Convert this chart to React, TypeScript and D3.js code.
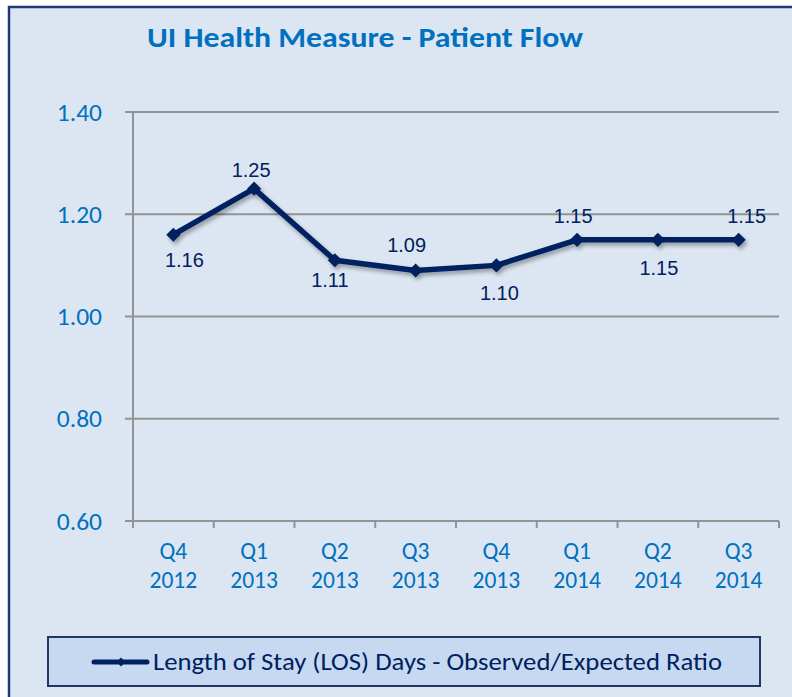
import React from "react";
import * as d3 from "d3";

const categories = ["Q4\n2012", "Q1\n2013", "Q2\n2013", "Q3\n2013", "Q4\n2013", "Q1\n2014", "Q2\n2014", "Q3\n2014"];
const values = [1.16, 1.25, 1.11, 1.09, 1.10, 1.15, 1.15, 1.15];
const yTicks = [0.6, 0.8, 1.0, 1.2, 1.4];
const title = "UI Health Measure - Patient Flow";
const seriesName = "Length of Stay (LOS) Days - Observed/Expected Ratio";
// data-label placement (offset from the marker), as placed in the original
const labelDx = [11, -3, -5, -9, 3, -4, 1, 8];
const labelDy = [32, -12, 27, -18, 35, -17, 35, -17];

export default function App() {
  const W = 792, H = 697;
  const left = 133, right = 779, top = 112, bottom = 521;
  const x = d3.scaleBand<string>().domain(categories).range([left, right]);
  const y = d3.scaleLinear().domain([0.6, 1.4]).range([bottom, top]);
  const cx = (c: string) => (x(c) as number) + x.bandwidth() / 2;
  const line = d3.line<number>().x((_, i) => cx(categories[i])).y((v) => y(v));
  const navy = "#002060";
  const blue = "#0070C0";
  const font = "Calibri, 'Open Sans', 'Liberation Sans', sans-serif";
  const diamond = d3.symbol().type(d3.symbolSquare).size(100)() as string;
  const smallDiamond = d3.symbol().type(d3.symbolSquare).size(40)() as string;
  const bounds = categories.map((c) => x(c) as number).concat([right]);

  return (
    <svg width={W} height={H} style={{ position: "absolute", left: 0, top: 0 }}>
      <defs>
        <filter id="sh" x="-10%" y="-10%" width="120%" height="140%">
          <feGaussianBlur in="SourceAlpha" stdDeviation="2" />
          <feOffset dx="2" dy="3" result="b" />
          <feComponentTransfer><feFuncA type="linear" slope="0.35" /></feComponentTransfer>
          <feMerge><feMergeNode /><feMergeNode in="SourceGraphic" /></feMerge>
        </filter>
      </defs>
      <rect x={0} y={0} width={W} height={H} fill="#ffffff" />
      <rect x={9} y={7} width={W + 20} height={H + 20} fill="#DCE6F2" stroke="#1F3A7A" strokeWidth={2.5} />
      <text x={147} y={47} fontFamily={font} fontWeight="bold" fontSize={29} fill={blue} textLength={436} lengthAdjust="spacingAndGlyphs">{title}</text>

      {yTicks.map((t) => (
        <g key={t}>
          <line x1={125} x2={right} y1={y(t)} y2={y(t)} stroke="#939393" strokeWidth={2} />
          <text x={102} y={y(t) + 8.5} textAnchor="end" fontFamily={font} fontSize={25.5} fill={blue}>{t.toFixed(2)}</text>
        </g>
      ))}
      <line x1={left} x2={left} y1={top} y2={bottom + 7} stroke="#939393" strokeWidth={2} />
      {bounds.map((b, i) => (
        <line key={i} x1={b} x2={b} y1={bottom} y2={bottom + 7} stroke="#939393" strokeWidth={2} />
      ))}
      {categories.map((c) => {
        const [a, b] = c.split("\n");
        return (
          <g key={c}>
            <text x={cx(c)} y={559} textAnchor="middle" fontFamily={font} fontSize={23.5} fill={blue}>{a}</text>
            <text x={cx(c)} y={588} textAnchor="middle" fontFamily={font} fontSize={23.5} fill={blue}>{b}</text>
          </g>
        );
      })}

      <g filter="url(#sh)">
        <path d={line(values) as string} fill="none" stroke={navy} strokeWidth={5.5} strokeLinejoin="round" />
        {values.map((v, i) => (
          <path key={i} d={diamond} transform={`translate(${cx(categories[i])},${y(v)}) rotate(45)`} fill={navy} />
        ))}
      </g>
      {values.map((v, i) => (
        <text key={i} x={cx(categories[i]) + labelDx[i]} y={y(v) + labelDy[i]}
          textAnchor="middle" fontFamily="'Liberation Sans', Arial, sans-serif" fontSize={20} fill={navy}>{v.toFixed(2)}</text>
      ))}

      <rect x={48} y={637} width={712} height={49} fill="#C6D9F1" stroke="#1F3864" strokeWidth={2} />
      <line x1={94} x2={147} y1={662} y2={662} stroke={navy} strokeWidth={5} strokeLinecap="round" />
      <path d={smallDiamond} transform="translate(121,662) rotate(45)" fill={navy} />
      <text x={153} y={670} fontFamily={font} fontSize={25} fill={navy} textLength={569} lengthAdjust="spacingAndGlyphs">{seriesName}</text>
    </svg>
  );
}
